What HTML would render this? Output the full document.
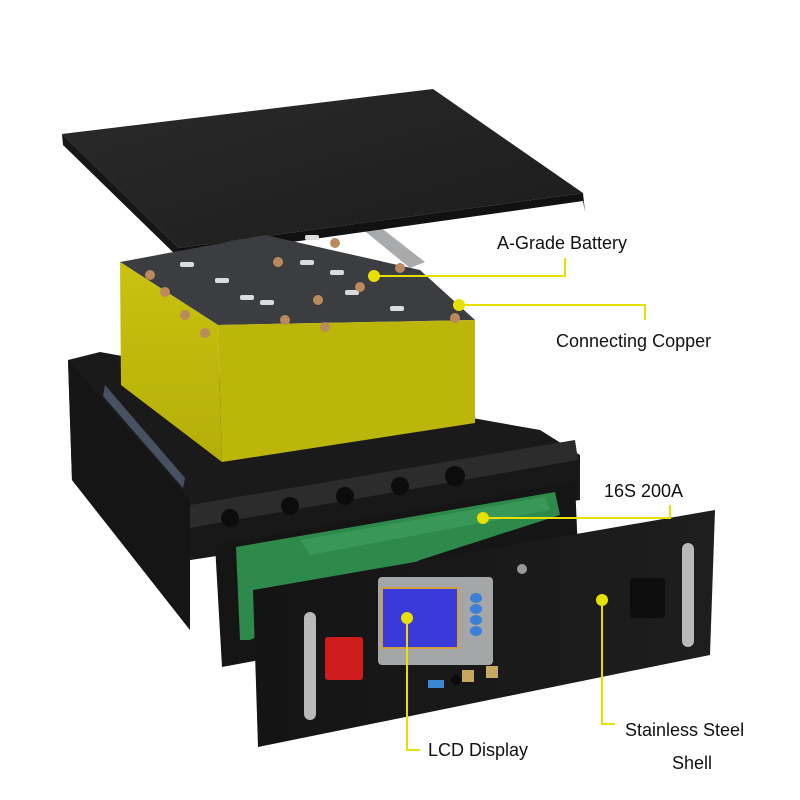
<!DOCTYPE html>
<html><head><style>
html,body{margin:0;padding:0;background:#fff;width:800px;height:800px;overflow:hidden}
svg{display:block}
text{font-family:"Liberation Sans","DejaVu Sans",sans-serif;fill:#111}
</style></head><body>
<svg width="800" height="800" viewBox="0 0 800 800" xmlns="http://www.w3.org/2000/svg">
<defs>
<linearGradient id="lid" x1="0" y1="0" x2="1" y2="1"><stop offset="0" stop-color="#2a2a2a"/><stop offset="1" stop-color="#1c1c1c"/></linearGradient>
<linearGradient id="yel" x1="0" y1="0" x2="0" y2="1"><stop offset="0" stop-color="#c9c20f"/><stop offset="1" stop-color="#b5ae08"/></linearGradient>
<linearGradient id="pan" x1="0" y1="0" x2="1" y2="0"><stop offset="0" stop-color="#141414"/><stop offset="1" stop-color="#1e1e1e"/></linearGradient>
</defs>
<!-- rails -->
<polygon points="208,243 225,240 270,290 255,295" fill="#a8aaac"/>
<polygon points="345,215 362,213 425,262 410,268" fill="#a8aaac"/>
<!-- lid -->
<polygon points="62,134 433,89 583,193 179,248" fill="url(#lid)"/>
<polygon points="179,248 583,193 585,212 583,201 179,258" fill="#111"/>
<polygon points="62,134 179,248 179,258 63,145" fill="#161616"/>
<!-- case -->
<polygon points="68,360 100,352 540,430 580,455 580,500 190,560 190,630 72,480" fill="#1a1a1a"/>
<polygon points="68,360 190,500 190,630 72,480" fill="#151515"/>
<polygon points="105,385 185,478 183,488 103,396" fill="#5a6b80" opacity="0.7"/>
<polygon points="190,505 575,440 578,460 190,528" fill="#2c2c2c"/>
<polygon points="190,528 578,460 578,500 190,560" fill="#181818"/>
<circle cx="230" cy="518" r="9" fill="#0c0c0c"/><circle cx="290" cy="506" r="9" fill="#0c0c0c"/><circle cx="345" cy="496" r="9" fill="#0c0c0c"/><circle cx="400" cy="486" r="9" fill="#0c0c0c"/><circle cx="455" cy="476" r="10" fill="#0c0c0c"/>
<!-- battery -->
<polygon points="120,262 265,235 420,270 475,320 218,325" fill="#3b3d40"/>
<polygon points="120,262 218,325 222,462 121,385" fill="url(#yel)"/>
<polygon points="218,325 475,320 475,423 222,462" fill="#bdb60a"/>
<g fill="#d9dbdc">
<rect x="180" y="262" width="14" height="5" rx="2"/><rect x="215" y="278" width="14" height="5" rx="2"/><rect x="240" y="295" width="14" height="5" rx="2"/><rect x="260" y="300" width="14" height="5" rx="2"/><rect x="300" y="260" width="14" height="5" rx="2"/><rect x="330" y="270" width="14" height="5" rx="2"/><rect x="345" y="290" width="14" height="5" rx="2"/><rect x="390" y="306" width="14" height="5" rx="2"/><rect x="305" y="235" width="14" height="5" rx="2"/>
</g>
<g fill="#b88a5e">
<circle cx="150" cy="275" r="5"/><circle cx="165" cy="292" r="5"/><circle cx="185" cy="315" r="5"/><circle cx="205" cy="333" r="5"/><circle cx="278" cy="262" r="5"/><circle cx="318" cy="300" r="5"/><circle cx="360" cy="287" r="5"/><circle cx="400" cy="268" r="5"/><circle cx="335" cy="243" r="5"/><circle cx="455" cy="318" r="5"/><circle cx="325" cy="327" r="5"/><circle cx="285" cy="320" r="5"/>
</g>
<!-- back plate -->
<polygon points="215,545 575,482 580,600 222,667" fill="#151515"/>
<!-- pcb -->
<polygon points="236,547 555,492 560,515 420,560 250,640 240,640" fill="#2e8a4a"/>
<polygon points="300,540 545,497 550,510 310,555" fill="#3c9a5a" opacity="0.8"/>
<!-- front panel -->
<polygon points="253,590 715,510 710,655 258,747" fill="url(#pan)"/>
<!-- handles -->
<rect x="304" y="612" width="12" height="108" rx="6" fill="#b7b9bb"/>
<rect x="682" y="543" width="12" height="104" rx="6" fill="#b7b9bb"/>
<rect x="325" y="637" width="38" height="43" rx="3" fill="#d01c1c"/>
<rect x="630" y="578" width="35" height="40" rx="3" fill="#0e0e0e"/>
<!-- lcd -->
<rect x="378" y="577" width="115" height="88" rx="4" fill="#a4a6a8"/>
<rect x="382" y="588" width="76" height="60" fill="#3a3ad8" stroke="#d0a040" stroke-width="2"/>
<g fill="#3b7fd6"><ellipse cx="476" cy="598" rx="6" ry="5"/><ellipse cx="476" cy="609" rx="6" ry="5"/><ellipse cx="476" cy="620" rx="6" ry="5"/><ellipse cx="476" cy="631" rx="6" ry="5"/></g>
<circle cx="522" cy="569" r="5" fill="#999"/>
<rect x="462" y="670" width="12" height="12" fill="#c8a860"/><rect x="486" y="666" width="12" height="12" fill="#c8a860"/>
<rect x="428" y="680" width="16" height="8" fill="#3b86d0"/>
<circle cx="456" cy="680" r="5" fill="#0a0a0a"/>
<!-- callouts -->
<g stroke="#e6df00" stroke-width="2" fill="none">
<polyline points="372,276 565,276 565,258"/>
<polyline points="459,305 645,305 645,320"/>
<polyline points="483,518 670,518 670,505"/>
<polyline points="407,619 407,750 420,750"/>
<polyline points="602,600 602,724 615,724"/>
</g>
<g fill="#e8e000"><circle cx="374" cy="276" r="6"/><circle cx="459" cy="305" r="6"/><circle cx="483" cy="518" r="6"/><circle cx="407" cy="618" r="6"/><circle cx="602" cy="600" r="6"/></g>
<text x="497" y="249" font-size="18">A-Grade Battery</text>
<text x="556" y="347" font-size="18">Connecting Copper</text>
<text x="604" y="497" font-size="18">16S 200A</text>
<text x="428" y="756" font-size="18">LCD Display</text>
<text x="625" y="736" font-size="18">Stainless Steel</text>
<text x="672" y="769" font-size="18">Shell</text>
</svg>
</body></html>
